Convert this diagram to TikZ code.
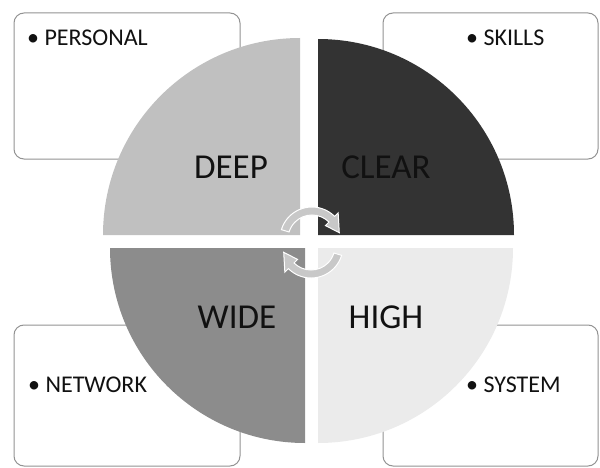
\documentclass[tikz,border=0pt]{standalone}
\usepackage{fontspec}
\setmainfont{Carlito}
\usepackage{xcolor}
\usepackage{tikz}

\definecolor{deepgray}{HTML}{C0C0C0}
\definecolor{cleargray}{HTML}{333333}
\definecolor{widegray}{HTML}{8C8C8C}
\definecolor{highgray}{HTML}{EBEBEB}
\definecolor{boxline}{HTML}{939393}
\definecolor{arrowgray}{HTML}{C8C8C8}
\definecolor{inktext}{HTML}{111111}

\begin{document}
\begin{tikzpicture}[x=1pt,y=1pt,
  infobox/.style={draw=boxline, fill=white, line width=1pt, rounded corners=10pt, inner sep=0pt},
  quadlabel/.style={text=inktext, inner sep=0pt, font=\fontsize{35}{35}\selectfont},
  bullet/.style={text=inktext, inner sep=0pt, anchor=west, font=\fontsize{24}{24}\selectfont},
  cyclearrow/.style={fill=arrowgray, draw=white, line width=1pt}]
\useasboundingbox (0,0) rectangle (600,467);

\node[infobox, minimum width=226, minimum height=146] (personalbox) at (127,381) {};
\node[infobox, minimum width=215, minimum height=146] (skillsbox) at (490.5,381) {};
\node[infobox, minimum width=226, minimum height=141] (networkbox) at (127,71.5) {};
\node[infobox, minimum width=215, minimum height=141] (systembox) at (490.5,71.5) {};

\fill[deepgray] (300,232) -- (103,232) arc[start angle=180, end angle=90, radius=197] -- cycle;
\fill[cleargray] (318,232) -- (318,428) arc[start angle=90, end angle=0, radius=196] -- cycle;
\fill[widegray] (305,219) -- (110,219) arc[start angle=180, end angle=270, radius=195] -- cycle;
\fill[highgray] (318,219) -- (318,24) arc[start angle=270, end angle=360, radius=195] -- cycle;

\filldraw[cyclearrow, shift={(312,228)}] (163:32) arc[start angle=163, end angle=45, radius=32]
  -- (45:37) -- (13:28) -- (45:19) -- (45:24) arc[start angle=45, end angle=163, radius=24] -- cycle;
\filldraw[cyclearrow, shift={(311,221)}] (-17:32) arc[start angle=-17, end angle=-135, radius=32]
  -- (-135:37) -- (-167:28) -- (-135:19) -- (-135:24) arc[start angle=-135, end angle=-17, radius=24] -- cycle;

\node[quadlabel] (deep) at (231,300) {DEEP};
\node[quadlabel] (clear) at (386,300) {CLEAR};
\node[quadlabel] (wide) at (237,150) {WIDE};
\node[quadlabel] (high) at (386,150) {HIGH};

\node[bullet] (personal) at (27,429) {• PERSONAL};
\node[bullet] (skills) at (466,429) {• SKILLS};
\node[bullet] (network) at (28,82) {• NETWORK};
\node[bullet] (system) at (466,82) {• SYSTEM};
\end{tikzpicture}
\end{document}
